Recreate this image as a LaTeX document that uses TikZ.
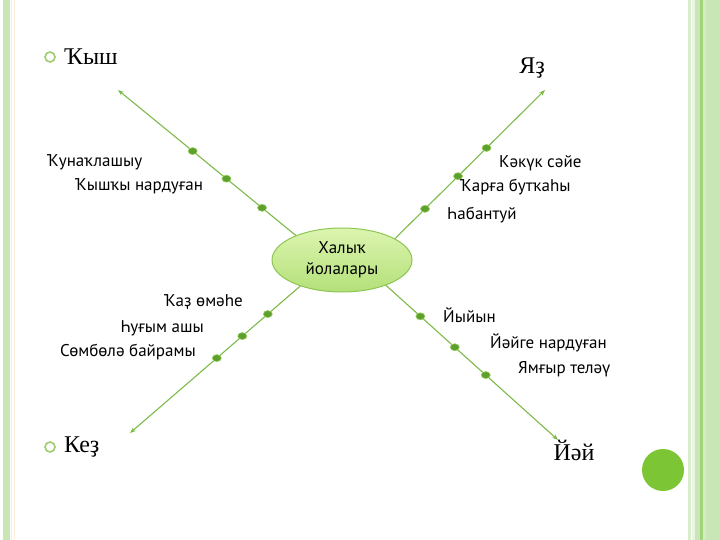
\documentclass[tikz,border=0pt]{standalone}
\usepackage{fontspec}
\setmainfont{Liberation Serif}
\newfontfamily\labelfont{PT Sans}
\usetikzlibrary{arrows.meta,shapes.geometric}
\definecolor{linkgreen}{HTML}{7DBA4A}
\definecolor{knotgreen}{HTML}{5E9F2F}
\definecolor{knotrim}{HTML}{93CF5A}
\definecolor{bulletgreen}{HTML}{9ECB6C}
\definecolor{hubrim}{HTML}{8DC653}
\definecolor{hubtop}{HTML}{DDF5B0}
\definecolor{hubbottom}{HTML}{B3E079}
\definecolor{barlight}{HTML}{C9E6B6}
\definecolor{bardark}{HTML}{A2D47E}
\definecolor{spotgreen}{HTML}{7CC534}
\begin{document}
\begin{tikzpicture}[x=1pt,y=-1pt,
  link/.style={draw=linkgreen,line width=1.1pt,-{Stealth[length=6pt,width=4.5pt]}},
  knot/.style={ellipse,fill=knotgreen,draw=knotrim,line width=0.6pt,
   minimum width=9pt,minimum height=7pt,inner sep=0pt},
  season/.style={font=\fontsize{24}{26}\selectfont,inner sep=0pt},
  custom/.style={font=\labelfont\fontsize{17}{19}\selectfont,inner sep=0pt},
  bulletmark/.style={circle,draw=bulletgreen,line width=1.6pt,minimum size=10pt,inner sep=0pt}]
 \useasboundingbox (0,0) rectangle (720,540);
 % frame stripes
 \fill[barlight] (3,0) rectangle (10,540);
 \draw[cyan!12,line width=0.8pt] (11.5,0) -- (11.5,540);
 \draw[orange!15,line width=0.8pt] (14,0) -- (14,540);
 \fill[barlight!70] (688,0) rectangle (691,540);
 \fill[barlight!40] (692,0) rectangle (695,540);
 \fill[barlight] (695,0) rectangle (700,540);
 \fill[bardark] (700,0) rectangle (703,540);
 \fill[barlight!80] (703,0) rectangle (706,540);
 \fill[barlight] (706,0) rectangle (720,540);
 \fill[spotgreen] (663,470) circle (21);

 % hub
 \node[ellipse,draw=hubrim,line width=1pt,top color=hubtop,bottom color=hubbottom,
  minimum width=140pt,minimum height=64pt,align=center,
  font=\labelfont\fontsize{17}{21}\selectfont] (hub) at (342,260) {Халыҡ\\йолалары};

 % seasons
 \node[bulletmark] (b1) at (50,57) {};
 \node[season,anchor=west] (winter) at (64,57) {Ҡыш};
 \node[season] (spring) at (532,68) {Яҙ};
 \node[bulletmark] (b2) at (50,447) {};
 \node[season,anchor=west] (autumn) at (64,447) {Кеҙ};
 \node[season] (summer) at (574,450) {Йәй};

 \coordinate (nwEnd) at (118,90);
 \coordinate (neEnd) at (545,90);
 \coordinate (swEnd) at (130,433);
 \coordinate (seEnd) at (558,440);

 % connectors with knots
 \draw[link] (hub.152) -- (nwEnd)
  node[knot,pos=0.19] (nw1) {} node[knot,pos=0.39] (nw2) {} node[knot,pos=0.58] (nw3) {};
 \draw[link] (hub.22) -- (neEnd)
  node[knot,pos=0.2] (ne1) {} node[knot,pos=0.42] (ne2) {} node[knot,pos=0.61] (ne3) {};
 \draw[link] (hub.212) -- (swEnd)
  node[knot,pos=0.19] (sw1) {} node[knot,pos=0.34] (sw2) {} node[knot,pos=0.49] (sw3) {};
 \draw[link] (hub.330) -- (seEnd)
  node[knot,pos=0.2] (se1) {} node[knot,pos=0.4] (se2) {} node[knot,pos=0.58] (se3) {};

 % customs
 \node[custom,anchor=west] (nwA) at (47,162) {Ҡунаҡлашыу};
 \node[custom,anchor=west] (nwB) at (75,186) {Ҡышҡы нардуған};
 \node[custom,anchor=west] (neA) at (499,163) {Кәкүк сәйе};
 \node[custom,anchor=west] (neB) at (460,187) {Ҡарға бутҡаһы};
 \node[custom,anchor=west] (neC) at (447,215) {Һабантуй};
 \node[custom,anchor=east] (swA) at (243,302) {Ҡаҙ өмәһе};
 \node[custom,anchor=east] (swB) at (204,328) {Һуғым ашы};
 \node[custom,anchor=east] (swC) at (196,352) {Сөмбөлә байрамы};
 \node[custom,anchor=west] (seA) at (443,315) {Йыйын};
 \node[custom,anchor=west] (seB) at (490,343) {Йәйге нардуған};
 \node[custom,anchor=west] (seC) at (518,369) {Ямғыр теләү};
\end{tikzpicture}
\end{document}
